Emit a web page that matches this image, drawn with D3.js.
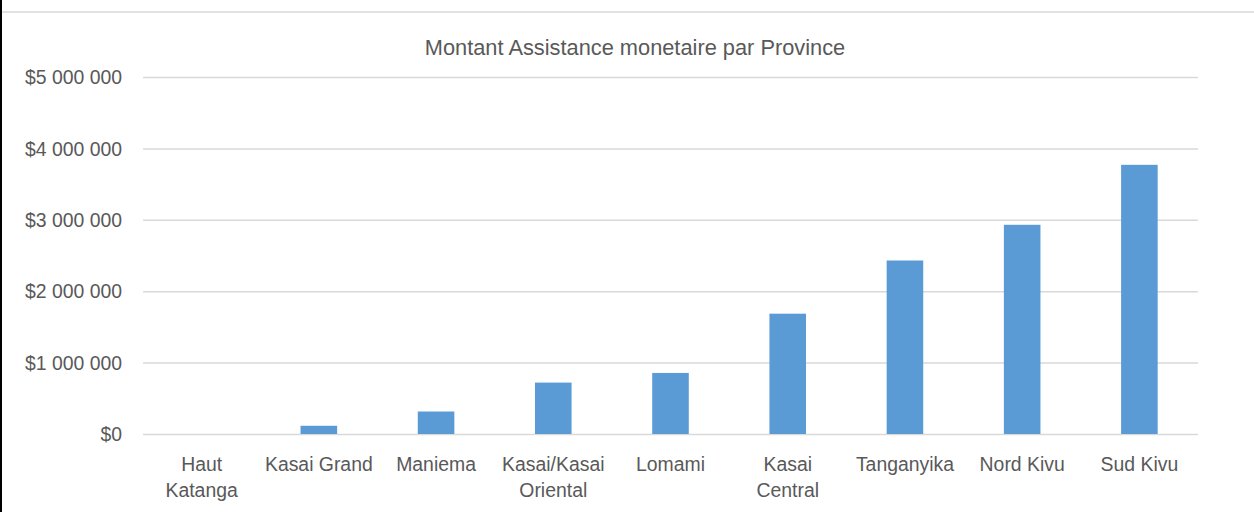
<!DOCTYPE html>
<html>
<head>
<meta charset="utf-8">
<script src="https://cdn.jsdelivr.net/npm/d3@7"></script>
<style>
  html, body { margin: 0; padding: 0; background: #fff; }
  #chart { width: 1254px; height: 512px; }
  text { font-family: "Liberation Sans", Arial, sans-serif; fill: #595959; }
</style>
</head>
<body>
<div id="chart"></div>
<script>
const provinces = [
  "Haut Katanga",
  "Kasai Grand",
  "Maniema",
  "Kasai/Kasai Oriental",
  "Lomami",
  "Kasai Central",
  "Tanganyika",
  "Nord Kivu",
  "Sud Kivu",
];
const montants = [0, 115000, 315000, 720000, 855000, 1685000, 2430000, 2930000, 3770000];
const yTicks = [0, 1000000, 2000000, 3000000, 4000000, 5000000];
const title = "Montant Assistance monetaire par Province";

const width = 1254;
const height = 512;
const margin = { left: 143, right: 56, top: 77, bottom: 78 };

const svg = d3
  .select("#chart")
  .append("svg")
  .attr("width", width)
  .attr("height", height);

// frame of the pasted chart
svg.append("line")
  .attr("x1", 2).attr("x2", width)
  .attr("y1", 12).attr("y2", 12)
  .attr("stroke", "#d9d9d9").attr("stroke-width", 1.5);
svg.append("line")
  .attr("x1", 1).attr("x2", 1)
  .attr("y1", 0).attr("y2", height)
  .attr("stroke", "#000").attr("stroke-width", 2);

const xScale = d3
  .scaleBand()
  .domain(provinces)
  .range([margin.left, width - margin.right])
  .paddingInner(0.688)
  .paddingOuter(0.344);

const yScale = d3
  .scaleLinear()
  .domain([0, 5000000])
  .range([height - margin.bottom, margin.top]);

const fmt = (v) => "$" + d3.format(",")(v).replace(/,/g, " ");

// grid
const grid = svg
  .append("g")
  .attr("transform", `translate(${margin.left}, 0)`)
  .call(
    d3.axisLeft(yScale)
      .tickValues(yTicks)
      .tickSize(-(width - margin.left - margin.right))
      .tickFormat("")
  );
grid.select(".domain").remove();
grid.selectAll("line").attr("stroke", "#d9d9d9").attr("stroke-width", 1.5);

// y labels
const yAxis = svg
  .append("g")
  .attr("transform", `translate(122, 0)`)
  .call(d3.axisLeft(yScale).tickValues(yTicks).tickSize(0).tickPadding(0).tickFormat(fmt));
yAxis.select(".domain").remove();
yAxis.selectAll("text")
  .attr("font-size", 19.4)
  .attr("font-family", null)
  .attr("fill", "#595959")
  .attr("dy", "0.35em");

// bars
svg
  .append("g")
  .selectAll("rect")
  .data(provinces)
  .join("rect")
  .attr("x", (d) => xScale(d))
  .attr("width", xScale.bandwidth())
  .attr("y", (d, i) => yScale(montants[i]))
  .attr("height", (d, i) => yScale(0) - yScale(montants[i]))
  .attr("fill", "#5b9bd5");

// x labels
const xAxis = svg
  .append("g")
  .attr("transform", `translate(0, ${height - margin.bottom})`)
  .call(d3.axisBottom(xScale).tickSize(0).tickPadding(0));
xAxis.select(".domain").remove();
xAxis.selectAll("text")
  .attr("font-size", 19.4)
  .attr("font-family", null)
  .attr("fill", "#595959")
  .attr("dy", null)
  .attr("y", 0)
  .each(function (d) {
    const t = d3.select(this);
    t.text(null);
    const words = d.split(" ");
    const maxW = 112;
    let lines = [];
    let cur = [];
    words.forEach((w) => {
      const trial = cur.concat([w]).join(" ");
      t.text(trial);
      if (cur.length && this.getComputedTextLength() > maxW) {
        lines.push(cur.join(" "));
        cur = [w];
      } else {
        cur.push(w);
      }
    });
    lines.push(cur.join(" "));
    t.text(null);
    lines.forEach((l, i) => {
      t.append("tspan")
        .attr("x", 0)
        .attr("y", 37 + i * 26)
        .text(l);
    });
  });

svg.append("text")
  .attr("x", 635)
  .attr("y", 55)
  .attr("text-anchor", "middle")
  .attr("font-size", 21.8)
  .text(title);
</script>
</body>
</html>
